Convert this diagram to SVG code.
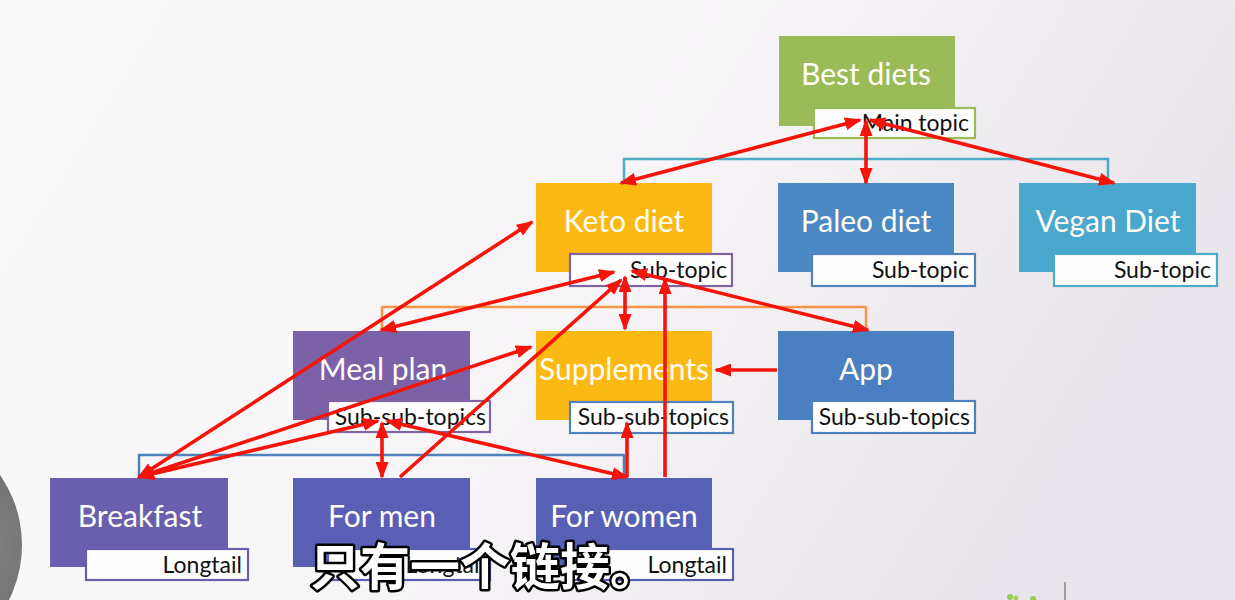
<svg xmlns="http://www.w3.org/2000/svg" width="1235" height="600" viewBox="0 0 1235 600">
<defs>
<linearGradient id="bg" x1="0" y1="0" x2="1" y2="0.3">
<stop offset="0" stop-color="#fbfafb"/>
<stop offset="0.6" stop-color="#f6f4f6"/>
<stop offset="1" stop-color="#e9e5ec"/>
</linearGradient>
<radialGradient id="disc" cx="0.75" cy="0.5" r="0.6">
<stop offset="0" stop-color="#8a8a8a"/>
<stop offset="1" stop-color="#5e5e5e"/>
</radialGradient>
<marker id="ah" viewBox="0 0 17 13" markerUnits="userSpaceOnUse" markerWidth="17" markerHeight="13" refX="15" refY="6.5" orient="auto-start-reverse">
<path d="M0,0 L17,6.5 L0,13 z" fill="#f5140a"/>
</marker>
<style>
.title{font-family:"Lato","Open Sans","Liberation Sans",sans-serif;font-size:30px;fill:#fffdf5;text-anchor:middle}
.lab{font-family:"Lato","Open Sans","Liberation Sans",sans-serif;font-size:23px;fill:#111111;text-anchor:end}
.box{fill:#fefefe;stroke-width:2.2}
.br{fill:none;stroke-width:2.5}
.arr{stroke:#f5140a;stroke-width:3.6;fill:none}
.sub{font-family:"Noto Sans CJK SC","Noto Sans CJK JP",sans-serif;font-size:50px;font-weight:700;fill:#ffffff;stroke:#000000;stroke-width:5;paint-order:stroke;stroke-linejoin:round}
</style>
</defs>
<rect width="1235" height="600" fill="url(#bg)"/>
<circle cx="-100" cy="545" r="122" fill="url(#disc)"/>
<g id="decor">
<circle cx="1010" cy="597" r="3" fill="#9ccc55"/>
<circle cx="1016" cy="598" r="2.5" fill="#a6d160"/>
<circle cx="1033" cy="599" r="3" fill="#9ccc55"/>
<line x1="1065" y1="582" x2="1065" y2="600" stroke="#555" stroke-width="1"/>
</g>
<g id="brackets">
<path class="br" stroke="#4bacc6" d="M624,183 V159 H1108 V183"/>
<path class="br" stroke="#f79646" d="M382,331 V307 H866 V331"/>
<path class="br" stroke="#4f81bd" d="M139,478 V455 H624 V478"/>
</g>
<g id="n-best">
<rect x="779" y="36" width="176" height="90" fill="#9bbb59"/>
<text class="title" x="866" y="85">Best diets</text>
<rect class="box" x="814" y="108" width="161" height="30" stroke="#9bbb59"/>
<text class="lab" x="969" y="131">Main topic</text>
</g>
<g id="n-keto">
<rect x="536" y="183" width="176" height="89" fill="#fdb913"/>
<text class="title" x="624" y="232">Keto diet</text>
<rect class="box" x="570" y="254" width="162" height="32" stroke="#8064a2"/>
<text class="lab" x="727" y="278">Sub-topic</text>
</g>
<g id="n-paleo">
<rect x="778" y="183" width="176" height="89" fill="#4a89c4"/>
<text class="title" x="866" y="232">Paleo diet</text>
<rect class="box" x="812" y="254" width="163" height="32" stroke="#4f81bd"/>
<text class="lab" x="969" y="278">Sub-topic</text>
</g>
<g id="n-vegan">
<rect x="1019" y="183" width="177" height="89" fill="#4aa7cd"/>
<text class="title" x="1108" y="232">Vegan Diet</text>
<rect class="box" x="1054" y="254" width="163" height="32" stroke="#4bacc6"/>
<text class="lab" x="1211" y="278">Sub-topic</text>
</g>
<g id="n-meal">
<rect x="293" y="331" width="177" height="89" fill="#7b62a8"/>
<text class="title" x="383" y="380">Meal plan</text>
<rect class="box" x="328" y="401" width="162" height="31" stroke="#8064a2"/>
<text class="lab" x="486" y="425">Sub-sub-topics</text>
</g>
<g id="n-supp">
<rect x="536" y="331" width="176" height="89" fill="#fdb913"/>
<text class="title" x="624" y="380">Supplements</text>
<rect class="box" x="570" y="402" width="163" height="31" stroke="#4f81bd"/>
<text class="lab" x="729" y="425">Sub-sub-topics</text>
</g>
<g id="n-app">
<rect x="778" y="331" width="176" height="89" fill="#4a7fc1"/>
<text class="title" x="866" y="380">App</text>
<rect class="box" x="812" y="401" width="163" height="32" stroke="#4f81bd"/>
<text class="lab" x="970" y="425">Sub-sub-topics</text>
</g>
<g id="n-breakfast">
<rect x="50" y="478" width="178" height="89" fill="#6a5fae"/>
<text class="title" x="140" y="527">Breakfast</text>
<rect class="box" x="86" y="549" width="162" height="31" stroke="#6a5fae"/>
<text class="lab" x="242" y="573">Longtail</text>
</g>
<g id="n-men">
<rect x="293" y="478" width="177" height="89" fill="#5a5fb5"/>
<text class="title" x="382" y="527">For men</text>
<rect class="box" x="328" y="549" width="162" height="31" stroke="#5a5fb5"/>
<text class="lab" x="485" y="573">Longtail</text>
</g>
<g id="n-women">
<rect x="536" y="478" width="176" height="89" fill="#5660b5"/>
<text class="title" x="624" y="527">For women</text>
<rect class="box" x="570" y="549" width="163" height="31" stroke="#5660b5"/>
<text class="lab" x="727" y="573">Longtail</text>
</g>
<g id="connectors">
<line class="arr" x1="860" y1="120" x2="621" y2="183" marker-start="url(#ah)" marker-end="url(#ah)"/>
<line class="arr" x1="866" y1="121" x2="866" y2="183" marker-start="url(#ah)" marker-end="url(#ah)"/>
<line class="arr" x1="870" y1="120" x2="1114" y2="183" marker-start="url(#ah)" marker-end="url(#ah)"/>
<line class="arr" x1="614" y1="272" x2="381" y2="330" marker-start="url(#ah)" marker-end="url(#ah)"/>
<line class="arr" x1="625" y1="277" x2="625" y2="329" marker-start="url(#ah)" marker-end="url(#ah)"/>
<line class="arr" x1="632" y1="271" x2="868" y2="330" marker-start="url(#ah)" marker-end="url(#ah)"/>
<line class="arr" x1="400" y1="477" x2="621" y2="280" marker-end="url(#ah)"/>
<line class="arr" x1="665" y1="477" x2="665" y2="279" marker-end="url(#ah)"/>
<line class="arr" x1="139" y1="477" x2="532" y2="222" marker-start="url(#ah)" marker-end="url(#ah)"/>
<line class="arr" x1="139" y1="477" x2="531" y2="347" marker-start="url(#ah)" marker-end="url(#ah)"/>
<line class="arr" x1="139" y1="477" x2="378" y2="421" marker-start="url(#ah)" marker-end="url(#ah)"/>
<line class="arr" x1="382" y1="423" x2="382" y2="477" marker-start="url(#ah)" marker-end="url(#ah)"/>
<line class="arr" x1="387" y1="421" x2="627" y2="477" marker-start="url(#ah)" marker-end="url(#ah)"/>
<line class="arr" x1="627" y1="477" x2="627" y2="423" marker-end="url(#ah)"/>
<line class="arr" x1="777" y1="370" x2="716" y2="370" marker-end="url(#ah)"/>
</g>
<text class="sub" x="310" y="585">只有一个链接。</text>
</svg>
